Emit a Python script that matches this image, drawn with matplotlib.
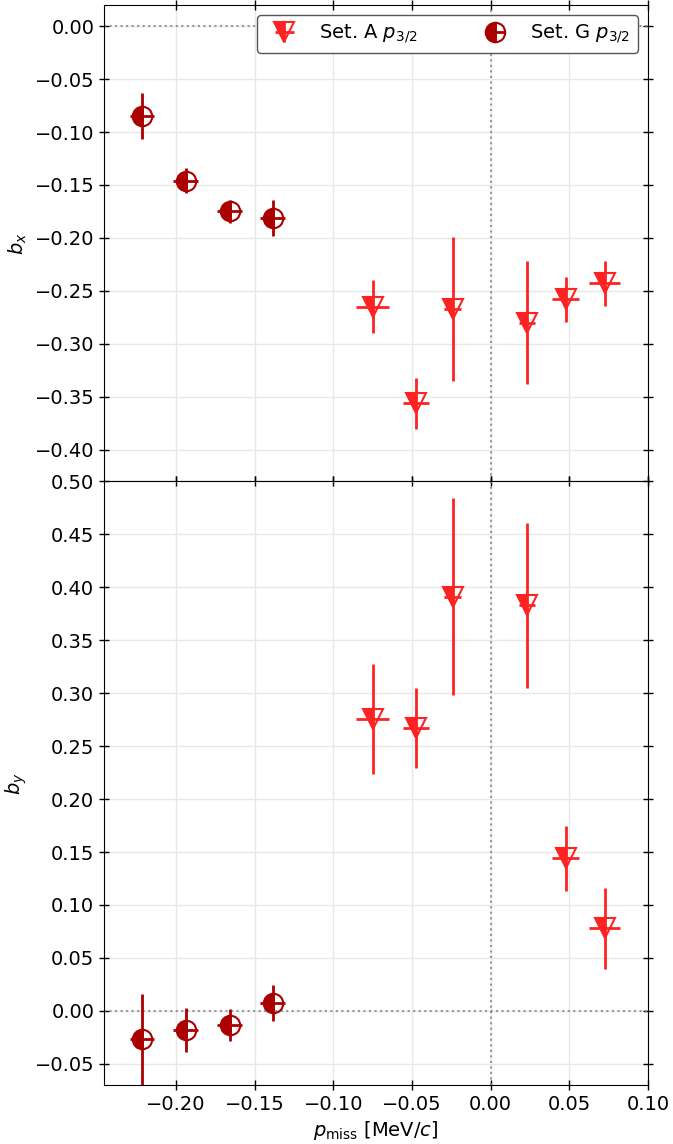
import matplotlib.pyplot as plt

# Set. A p3/2 (triangles)
xa = [-0.075, -0.0477, -0.0241, 0.0229, 0.0476, 0.0724]
xa_err = [0.0103, 0.0083, 0.0055, 0.005, 0.0083, 0.010]
bx_a = [-0.265, -0.356, -0.267, -0.280, -0.258, -0.243]
bx_a_err = [0.025, 0.024, 0.068, 0.058, 0.021, 0.021]
by_a = [0.276, 0.267, 0.391, 0.383, 0.144, 0.078]
by_a_err = [0.052, 0.038, 0.093, 0.078, 0.031, 0.038]

# Set. G p3/2 (circles)
xg = [-0.2217, -0.1938, -0.1658, -0.1385]
xg_err = [0.0075, 0.008, 0.008, 0.008]
bx_g = [-0.085, -0.146, -0.175, -0.181]
bx_g_err = [0.022, 0.012, 0.011, 0.017]
by_g = [-0.027, -0.018, -0.013, 0.007]
by_g_err = [0.043, 0.021, 0.015, 0.017]

col_a = '#ff2222'
col_g = '#aa0000'


def fmt(v, pos):
    s = '%.2f' % v
    if s == '-0.00':
        s = '0.00'
    return s.replace('-', '\u2212')


fig, (ax1, ax2) = plt.subplots(2, 1, sharex=True, figsize=(6.73, 11.44), dpi=100,
                               gridspec_kw={'height_ratios': [0.45, 0.57]})
fig.subplots_adjust(left=104 / 673, right=648 / 673, top=1 - 5 / 1144,
                    bottom=1 - 1085 / 1144, hspace=0)

for ax, ya, ya_err, yg, yg_err in [(ax1, bx_a, bx_a_err, bx_g, bx_g_err),
                                   (ax2, by_a, by_a_err, by_g, by_g_err)]:
    ax.axhline(0, color='gray', ls=':', lw=1.5, alpha=0.8, zorder=1)
    ax.axvline(0, color='gray', ls=':', lw=1.5, alpha=0.8, zorder=1)
    ax.errorbar(xa, ya, xerr=xa_err, yerr=ya_err, fmt='v', color=col_a,
                ms=14, fillstyle='left', mfc=col_a, mec=col_a, mew=1.5,
                elinewidth=2, capsize=0, label='Set. A $p_{3/2}$', zorder=3)
    ax.errorbar(xg, yg, xerr=xg_err, yerr=yg_err, fmt='o', color=col_g,
                ms=14, fillstyle='left', mfc=col_g, mec=col_g, mew=1.5,
                elinewidth=2, capsize=0, label='Set. G $p_{3/2}$', zorder=3)
    ax.grid(True, color='#e8e8e8', lw=1, zorder=0)
    ax.set_axisbelow(True)
    ax.tick_params(direction='inout', length=7, width=1, labelsize=14,
                   top=True, right=True)
    ax.yaxis.set_major_formatter(plt.FuncFormatter(fmt))

ax1.set_ylim(-0.43, 0.02)
ax1.set_yticks([i * -0.05 for i in range(9)])
ax2.set_ylim(-0.07, 0.50)
ax2.set_yticks([-0.05 + i * 0.05 for i in range(12)])
ax2.set_xlim(-0.2457, 0.10)
ax2.set_xticks([-0.20, -0.15, -0.10, -0.05, 0.00, 0.05, 0.10])
ax2.xaxis.set_major_formatter(plt.FuncFormatter(fmt))

ax1.set_ylabel('$b_x$', fontsize=14)
ax2.set_ylabel('$b_y$', fontsize=14)
ax2.set_xlabel(r'$p_{\rm miss}$ [MeV/$c$]', fontsize=14)

ax1.legend(loc='upper right', ncol=2, fontsize=14, columnspacing=3,
           edgecolor='#555555', fancybox=True, framealpha=1)

plt.savefig('out.png')
